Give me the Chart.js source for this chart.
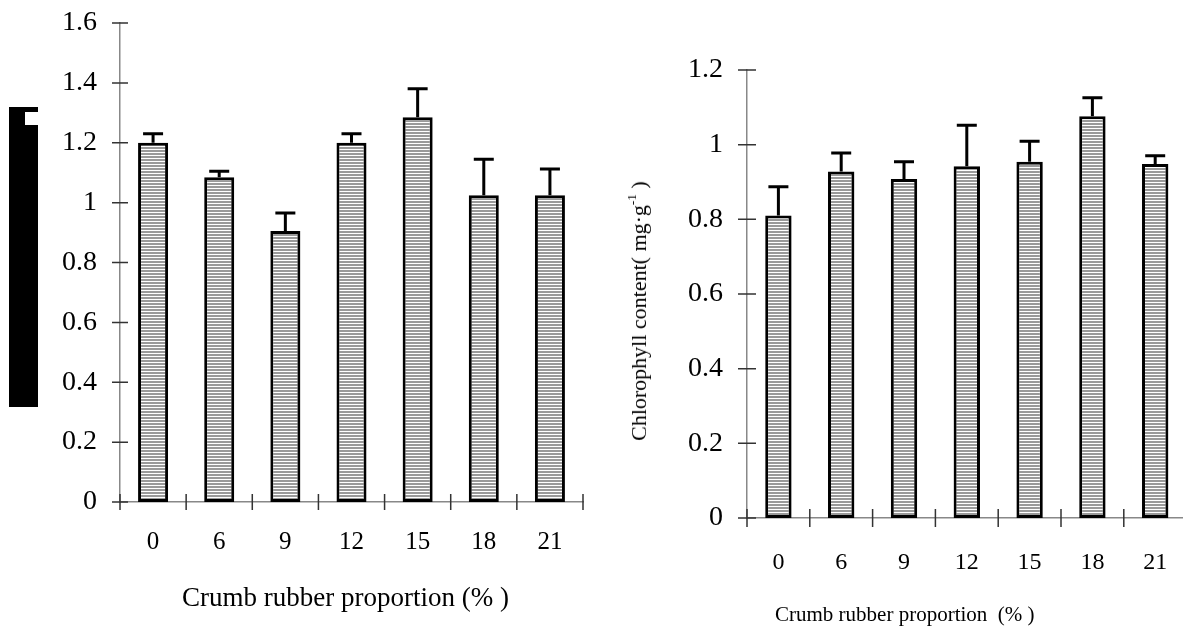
<!DOCTYPE html>
<html>
<head>
<meta charset="utf-8">
<script src="https://cdn.jsdelivr.net/npm/chart.js@4.4.1/dist/chart.umd.min.js"></script>
<style>
  html, body { margin: 0; padding: 0; background: #fff; overflow: hidden; width: 1183px; height: 628px; }
  body { position: relative; font-family: 'Liberation Serif', serif; color: #000; }
  canvas { position: absolute; top: 0; }
  #leftChart { left: 0; }
  #rightChart { left: 600px; }
  .title { position: absolute; white-space: pre; }
  #leftXTitle { left: 182px; top: 584px; font-size: 27px; line-height: 27px; }
  #rightXTitle { left: 775px; top: 604px; font-size: 21px; line-height: 21px; }
  #rightYTitle { left: 639px; top: 311px; font-size: 22px; line-height: 22px; transform: translate(-50%, -50%) rotate(-90deg); }
  #rightYTitle sup { font-size: 0.6em; vertical-align: 0.75em; line-height: 0; }
  #hidden { position: absolute; left: 9px; top: 107px; width: 29px; height: 300px; background: #000; }
  #hidden div { position: absolute; right: 0; top: 5px; width: 13px; height: 13px; background: #fff; }
</style>
</head>
<body>
<canvas id="leftChart" width="600" height="628"></canvas>
<canvas id="rightChart" width="600" height="628"></canvas>
<div id="hidden"><div></div></div>
<div class="title" id="leftXTitle">Crumb rubber proportion (% )</div>
<div class="title" id="rightXTitle">Crumb rubber proportion  (% )</div>
<div class="title" id="rightYTitle">Chlorophyll content( mg·g<sup>-1</sup> )</div>
<script>
// crumb rubber proportion (%)
const categories = ['0', '6', '9', '12', '15', '18', '21']

// left panel
const leftValues = [1.20, 1.085, 0.905, 1.20, 1.285, 1.025, 1.025]
const leftErrors = [0.03, 0.02, 0.06, 0.03, 0.095, 0.12, 0.087]
const leftMin = 0, leftMax = 1.6, leftStep = 0.2

// right panel, chlorophyll content
const rightValues = [0.81, 0.928, 0.908, 0.942, 0.954, 1.076, 0.948]
const rightErrors = [0.077, 0.05, 0.046, 0.11, 0.055, 0.05, 0.022]
const rightMin = 0, rightMax = 1.2, rightStep = 0.2

const serif = 'Liberation Serif'

function makeHatch() {
  let c = document.createElement('canvas')
  c.width = 4
  c.height = 3
  let g = c.getContext('2d')
  g.fillStyle = '#fff'
  g.fillRect(0, 0, 4, 3)
  g.fillStyle = '#9a9a9a'
  g.fillRect(0, 0, 4, 2)
  return g.createPattern(c, 'repeat')
}

// only the upper half of the error bar is drawn
const errorBars = {
  id: 'errorBars',
  afterDatasetsDraw(chart, args, opts) {
    const ctx = chart.ctx
    const ds = chart.data.datasets[0]
    const y = chart.scales.y
    ctx.save()
    ctx.strokeStyle = '#000'
    ctx.lineWidth = 3
    chart.getDatasetMeta(0).data.forEach((bar, i) => {
      const top = y.getPixelForValue(ds.data[i] + ds.errors[i])
      ctx.beginPath()
      ctx.moveTo(bar.x, bar.y)
      ctx.lineTo(bar.x, top)
      ctx.moveTo(bar.x - opts.cap / 2, top)
      ctx.lineTo(bar.x + opts.cap / 2, top)
      ctx.stroke()
    })
    ctx.restore()
  }
}

// tick marks that cross the axis line
const crossTicks = {
  id: 'crossTicks',
  afterDraw(chart, args, opts) {
    const { x, y } = chart.scales
    const ctx = chart.ctx
    ctx.save()
    ctx.strokeStyle = '#333'
    ctx.lineWidth = 1.5
    ctx.beginPath()
    y.ticks.forEach(t => {
      const py = y.getPixelForValue(t.value)
      ctx.moveTo(y.right - opts.len, py)
      ctx.lineTo(y.right + opts.len, py)
    })
    for (let i = 0; i <= x.ticks.length; i++) {
      const px = x.getPixelForValue(i - 0.5)
      ctx.moveTo(px, x.top - opts.len)
      ctx.lineTo(px, x.top + opts.len)
    }
    ctx.stroke()
    ctx.restore()
  }
}

function makeChart(id, cfg) {
  return new Chart(document.getElementById(id), {
    type: 'bar',
    data: {
      labels: categories,
      datasets: [{
        data: cfg.values,
        errors: cfg.errors,
        backgroundColor: makeHatch(),
        borderColor: '#000',
        borderWidth: 3,
        borderSkipped: false,
        barPercentage: cfg.barPct,
        categoryPercentage: 1
      }]
    },
    options: {
      responsive: false,
      animation: false,
      devicePixelRatio: 1,
      layout: { padding: { top: cfg.top, right: cfg.right, bottom: 0, left: 0 } },
      plugins: {
        legend: { display: false },
        tooltip: { enabled: false },
        errorBars: { cap: 20 },
        crossTicks: { len: cfg.tickLen }
      },
      scales: {
        x: {
          grid: { display: false, drawTicks: false },
          border: { display: true, color: '#888', width: 1.5 },
          ticks: { color: '#000', font: { family: serif, size: cfg.xFont }, padding: cfg.xPad, maxRotation: 0 },
          afterFit(s) { s.height = cfg.xHeight }
        },
        y: {
          min: cfg.min,
          max: cfg.max,
          grid: { display: false, drawTicks: false },
          border: { display: true, color: '#888', width: 1.5 },
          ticks: {
            stepSize: cfg.step,
            color: '#000',
            font: { family: serif, size: 28 },
            padding: cfg.yPad,
            callback: v => String(Number(v.toFixed(1)))
          },
          afterFit(s) {
            s.width = cfg.yWidth
            // the label padding would otherwise push the plot top down
            s.paddingTop = 0
            s.paddingBottom = 0
          }
        }
      }
    },
    plugins: [errorBars, crossTicks]
  })
}

makeChart('leftChart', {
  values: leftValues, errors: leftErrors, min: leftMin, max: leftMax, step: leftStep,
  barPct: 0.454, top: 23, right: 17, xHeight: 126, yWidth: 120,
  xFont: 25, xPad: 25, yPad: 23, tickLen: 8
})

makeChart('rightChart', {
  values: rightValues, errors: rightErrors, min: rightMin, max: rightMax, step: rightStep,
  barPct: 0.42, top: 70, right: 13.4, xHeight: 110, yWidth: 147,
  xFont: 24, xPad: 30, yPad: 24, tickLen: 9
})
</script>
</body>
</html>
